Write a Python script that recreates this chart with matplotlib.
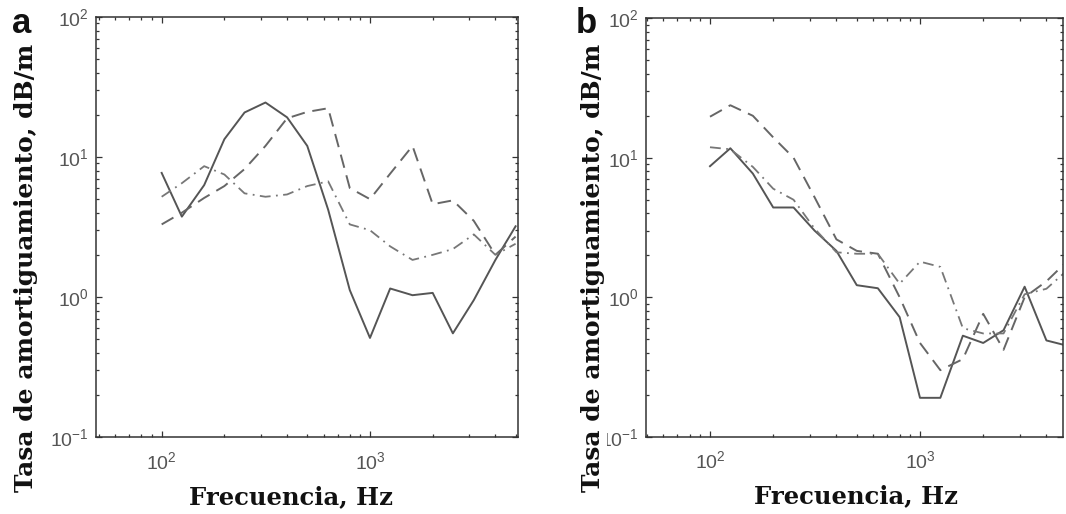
import matplotlib
matplotlib.use('Agg')
import matplotlib.pyplot as plt
from matplotlib.ticker import LogLocator, LogFormatterMathtext, NullFormatter

plt.rcParams['mathtext.fontset'] = 'custom'
plt.rcParams['mathtext.rm'] = 'Liberation Sans'
plt.rcParams['mathtext.default'] = 'regular'
plt.rcParams['font.family'] = 'Liberation Sans'

# 1/3-octave band centre frequencies, Hz
freqs = [100, 125, 160, 200, 250, 315, 400, 500, 630, 800,
         1000, 1250, 1600, 2000, 2500, 3150, 4000, 5000]

# attenuation rate, dB/m -- panel a
a_solid = [7.7, 3.75, 6.3, 13.4, 20.8, 24.5, 19.2, 12.0, 4.2, 1.12,
           0.51, 1.15, 1.03, 1.07, 0.55, 0.95, 1.84, 3.2]
a_dashed = [3.3, 4.0, 5.1, 6.2, 8.2, 12.0, 18.9, 21.0, 22.3, 6.0,
            5.0, 7.6, 12.0, 4.6, 4.9, 3.5, 2.0, 2.7]
a_dashdot = [5.2, 6.5, 8.6, 7.5, 5.5, 5.2, 5.4, 6.2, 6.7, 3.3,
             3.0, 2.3, 1.84, 2.0, 2.2, 2.8, 2.0, 2.4]

# attenuation rate, dB/m -- panel b
b_solid = [8.7, 11.7, 7.7, 4.4, 4.4, 3.0, 2.15, 1.22, 1.16, 0.72,
           0.19, 0.19, 0.53, 0.47, 0.58, 1.19, 0.49, 0.45]
b_dashed = [19.7, 23.8, 20.0, 14.0, 10.0, 5.2, 2.6, 2.15, 2.05, 1.0,
            0.47, 0.30, 0.36, 0.76, 0.42, 1.0, 1.3, 1.8]
b_dashdot = [11.9, 11.5, 8.6, 6.0, 5.0, 3.1, 2.1, 2.05, 2.05, 1.25,
             1.8, 1.65, 0.6, 0.55, 0.55, 1.05, 1.15, 1.55]

W, H = 1066, 514
fig = plt.figure(figsize=(W / 100, H / 100), dpi=100)


def px_axes(left, right, top, bottom):
    return fig.add_axes([left / W, 1 - bottom / H, (right - left) / W, (bottom - top) / H])


def style_axes(ax, xlim):
    ax.set_xscale('log')
    ax.set_yscale('log')
    ax.set_xlim(*xlim)
    ax.set_ylim(0.1, 100)
    ax.set_xticks([100, 1000])
    ax.set_yticks([0.1, 1, 10, 100])
    ax.xaxis.set_major_formatter(LogFormatterMathtext())
    ax.yaxis.set_major_formatter(LogFormatterMathtext())
    for axis in (ax.xaxis, ax.yaxis):
        axis.set_minor_locator(LogLocator(base=10, subs=range(2, 10), numticks=20))
        axis.set_minor_formatter(NullFormatter())
    ax.tick_params(which='both', direction='in', top=True, right=True,
                   colors='#333333', labelcolor='#555555', labelsize=14)
    ax.tick_params(which='major', length=4, width=0.9)
    ax.tick_params(which='minor', length=2.5, width=0.9)
    ax.tick_params(axis='x', pad=10)
    ax.tick_params(axis='y', pad=5)
    for sp in ax.spines.values():
        sp.set_color('#333333')
        sp.set_linewidth(1.1)


def draw_lines(ax, solid, dashed, dashdot):
    ax.plot(freqs, solid, color='#555555', lw=1.4, ls='-')
    ax.plot(freqs, dashed, color='#666666', lw=1.4, dashes=(7, 4))
    ax.plot(freqs, dashdot, color='#777777', lw=1.3, dashes=(6, 3, 1, 3))


label_font = dict(family='DejaVu Serif', weight='bold', size=17.5, color='#111111')
ylabel_font = dict(label_font, size=18)

ax_a = px_axes(96, 517.7, 17, 437)
style_axes(ax_a, (48.4, 5118))
draw_lines(ax_a, a_solid, a_dashed, a_dashdot)
ax_a.set_xlabel('Frecuencia, Hz', va='baseline', **label_font)
ax_a.xaxis.set_label_coords((291 - 96) / 421.7, (437 - 504) / 420)
ax_a.set_ylabel('Tasa de amortiguamiento, dB/m', va='center', **ylabel_font)
ax_a.yaxis.set_label_coords((26 - 96) / 421.7, (437 - 268) / 420)

ax_b = px_axes(645.5, 1063, 18.3, 436.7)
style_axes(ax_b, (49.3, 4798))
draw_lines(ax_b, b_solid, b_dashed, b_dashdot)
ax_b.set_xlabel('Frecuencia, Hz', va='baseline', **label_font)
ax_b.xaxis.set_label_coords((856 - 645.5) / 417.5, (436.7 - 503) / 418.4)
# white box behind the label hides the leading digit of the lowest tick label
ax_b.set_ylabel('Tasa de amortiguamiento, dB/m', va='center',
                bbox=dict(facecolor='white', edgecolor='none', pad=1), **ylabel_font)
ax_b.yaxis.set_label_coords((593 - 645.5) / 417.5, (436.7 - 268) / 418.4)

# panel letters
fig.text(22 / W, 1 - 33 / H, 'a', ha='center', va='baseline',
         fontsize=25, fontweight='bold', family='Liberation Sans', color='#111111')
fig.text(586 / W, 1 - 33 / H, 'b', ha='center', va='baseline',
         fontsize=25, fontweight='bold', family='Liberation Sans', color='#111111')

fig.savefig('out.png', dpi=100)
